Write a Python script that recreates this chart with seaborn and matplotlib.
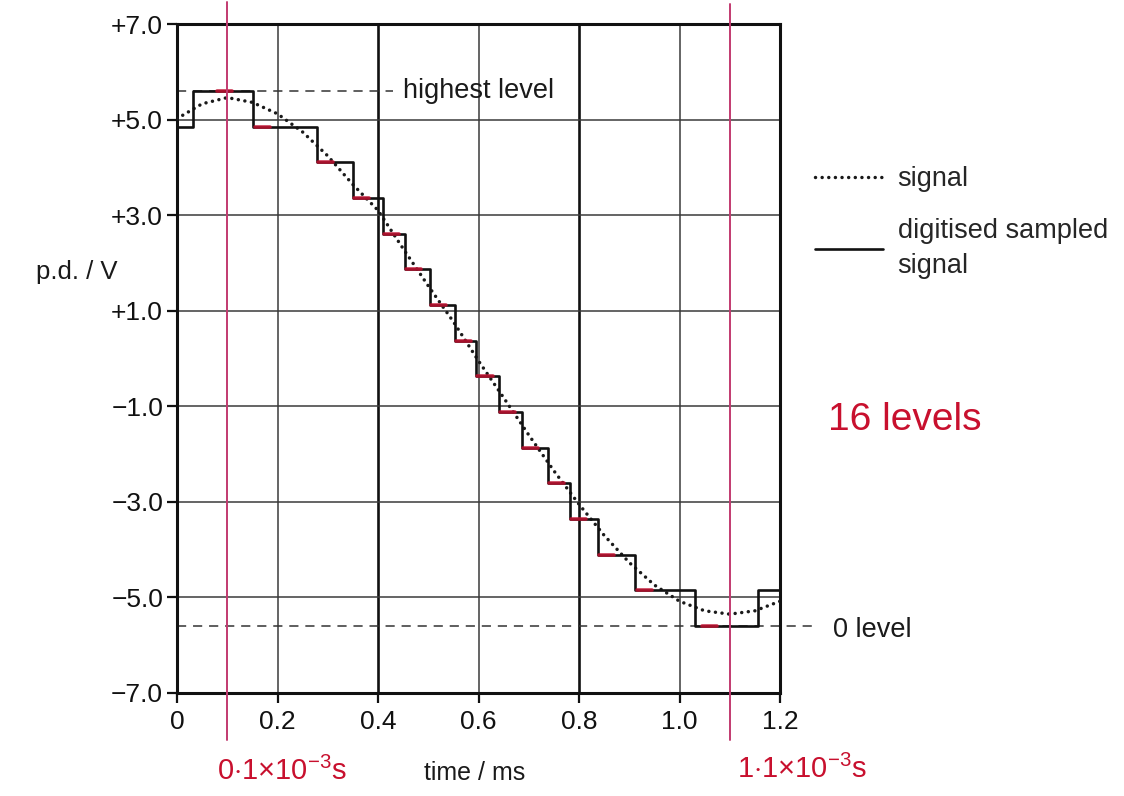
import numpy as np
import pandas as pd
import matplotlib
matplotlib.use("Agg")
import matplotlib.pyplot as plt
import seaborn as sns

# ---- data ----
# analogue signal (dotted), sampled every 0.05 ms
signal_t = [0.00, 0.05, 0.10, 0.15, 0.20, 0.25, 0.30, 0.35, 0.40, 0.45, 0.50, 0.55, 0.60,
            0.65, 0.70, 0.75, 0.80, 0.85, 0.90, 0.95, 1.00, 1.05, 1.10, 1.15, 1.20]
signal_v = [5.02, 5.33, 5.46, 5.36, 5.12, 4.74, 4.24, 3.64, 3.10, 2.30, 1.52, 0.77, -0.05,
            -0.82, -1.60, -2.35, -3.05, -3.70, -4.27, -4.74, -5.08, -5.28, -5.35, -5.28, -5.08]

# digitised sampled signal: time each level starts, and the level (V)
step_t = [0.0, 0.032, 0.151, 0.278, 0.351, 0.409, 0.454, 0.503, 0.553, 0.595,
          0.641, 0.686, 0.739, 0.782, 0.838, 0.911, 1.031, 1.157, 1.2]
step_v = [4.85, 5.60, 4.85, 4.11, 3.36, 2.61, 1.87, 1.12, 0.37, -0.37,
          -1.12, -1.87, -2.61, -3.36, -4.11, -4.85, -5.60, -4.85, -4.85]

# red pen marks on the levels (start time, level)
mark_t = [0.080, 0.155, 0.281, 0.353, 0.411, 0.456, 0.505, 0.555, 0.598,
          0.643, 0.688, 0.741, 0.784, 0.840, 0.915, 1.045]
mark_v = step_v[1:17]

highest_level = 5.6
zero_level = -5.6

y_ticks = [7, 5, 3, 1, -1, -3, -5, -7]
y_labels = ["+7.0", "+5.0", "+3.0", "+1.0", "\u22121.0", "\u22123.0", "\u22125.0", "\u22127.0"]
x_ticks = [0, 0.2, 0.4, 0.6, 0.8, 1.0, 1.2]
x_labels = ["0", "0.2", "0.4", "0.6", "0.8", "1.0", "1.2"]

sig_df = pd.DataFrame({"time": signal_t, "pd": signal_v})
step_df = pd.DataFrame({"time": step_t, "pd": step_v})

sns.set_style("white")
plt.rcParams["font.family"] = ["Liberation Sans", "DejaVu Sans"]
plt.rcParams["mathtext.fontset"] = "custom"
plt.rcParams["mathtext.rm"] = "Liberation Sans"

W, H = 1124, 796
fig = plt.figure(figsize=(W / 100, H / 100), dpi=100)
ax = fig.add_axes([177 / W, 1 - 693 / H, (780 - 177) / W, (693 - 24) / H])

# grid
for x in [0.2, 0.6, 1.0]:
    ax.axvline(x, color="#3a3a3a", lw=1.1, zorder=1)
for x in [0.4, 0.8]:
    ax.axvline(x, color="#111111", lw=1.9, zorder=1)
for y in [5, 3, 1, -1, -3, -5]:
    ax.axhline(y, color="#3a3a3a", lw=1.1, zorder=1)

# level lines
ax.plot([0, 0.43], [highest_level, highest_level], color="#333333", lw=1.1,
        dashes=(6, 4.5), zorder=2)
ax.plot([0, 1.276], [zero_level, zero_level], color="#333333", lw=1.1,
        dashes=(6, 4.5), zorder=2, clip_on=False)

sns.lineplot(data=sig_df, x="time", y="pd", ax=ax, color="#1a1a1a", lw=2.5,
             linestyle=(0, (0.01, 1.9)), dash_capstyle="round", label="signal", zorder=3)
sns.lineplot(data=step_df, x="time", y="pd", ax=ax, color="#111111", lw=1.9,
             drawstyle="steps-post", label="digitised sampled\nsignal", zorder=4)

# red pen marks
for t, v in zip(mark_t, mark_v):
    ax.plot([t, t + 0.03], [v, v], color="#c01030", lw=2.6, alpha=0.85,
            solid_capstyle="round", zorder=5)

# pink vertical pen lines
pink = "#c23a70"
ax.plot([0.1, 0.1], [7.45, -7.98], color=pink, lw=1.4, clip_on=False, zorder=6)
ax.plot([1.1, 1.1], [7.42, -7.98], color=pink, lw=1.4, clip_on=False, zorder=6)

ax.set_xlim(0, 1.2)
ax.set_ylim(-7, 7)
ax.set_xticks(x_ticks)
ax.set_xticklabels(x_labels)
ax.set_yticks(y_ticks)
ax.set_yticklabels(y_labels)
ax.tick_params(axis="both", direction="out", length=7, width=1.6, color="#111111",
               labelsize=19, labelcolor="#111111", pad=3, left=True, bottom=True)
ax.tick_params(axis="x", pad=5)
for s in ax.spines.values():
    s.set_visible(True)
    s.set_color("#111111")
    s.set_linewidth(2.2)
ax.set_xlabel("")
ax.set_ylabel("")

ax.text(0.45, highest_level, "highest level", fontsize=19.5, va="center", ha="left",
        color="#1a1a1a", zorder=7)
fig.text(833 / W, 1 - 630 / H, "0 level", fontsize=19.5, va="center", ha="left", color="#1a1a1a")
fig.text(36 / W, 1 - 272 / H, "p.d. / V", fontsize=18.5, va="center", ha="left", color="#1a1a1a")
fig.text(475 / W, 1 - 773 / H, "time / ms", fontsize=18, va="center", ha="center", color="#1a1a1a")

# legend
leg = ax.legend(loc="upper left", bbox_to_anchor=(815 / W, 1 - 166 / H),
                bbox_transform=fig.transFigure, frameon=False, fontsize=19.5,
                handlelength=2.5, handletextpad=0.55, labelspacing=0.95,
                borderpad=0, borderaxespad=0)
leg.get_texts()[1].set_linespacing(1.45)

# handwritten red notes
red = "#c8102e"
fig.text(905 / W, 1 - 420 / H, "16 levels", fontsize=28, color=red, ha="center", va="center")
fig.text(282 / W, 1 - 771 / H, r"0$\cdot$1$\times$10$^{-3}$s", fontsize=21, color=red,
         ha="center", va="center")
fig.text(802 / W, 1 - 769 / H, r"1$\cdot$1$\times$10$^{-3}$s", fontsize=21, color=red,
         ha="center", va="center")

fig.savefig("out.png", dpi=100)
